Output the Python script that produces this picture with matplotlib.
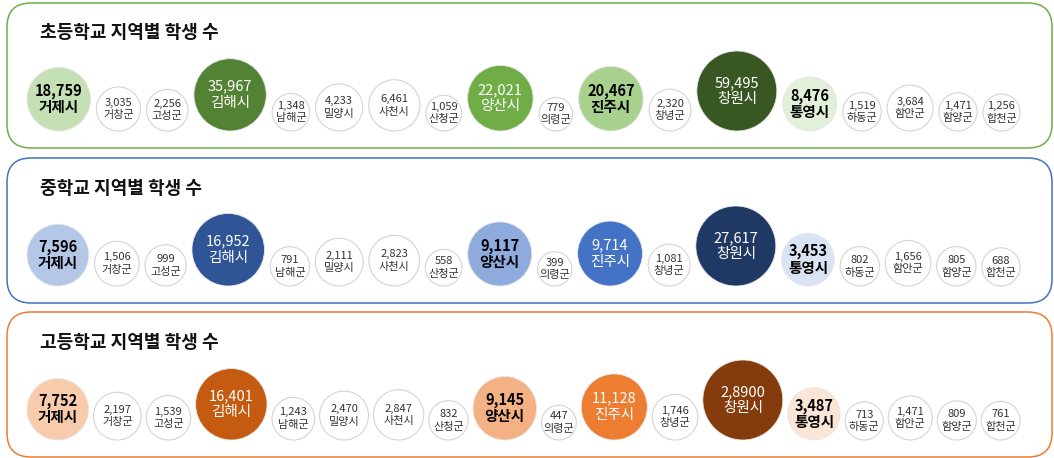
import matplotlib.pyplot as plt
import matplotlib.patches as patches
import numpy as np

plt.rcParams['font.family'] = ['Noto Sans CJK KR', 'DejaVu Sans']

# data
regions = ['거제시', '거창군', '고성군', '김해시', '남해군', '밀양시', '사천시', '산청군', '양산시',
           '의령군', '진주시', '창녕군', '창원시', '통영시', '하동군', '함안군', '함양군', '합천군']

elementary = ['18,759', '3,035', '2,256', '35,967', '1,348', '4,233', '6,461', '1,059', '22,021',
              '779', '20,467', '2,320', '59,495', '8,476', '1,519', '3,684', '1,471', '1,256']
middle = ['7,596', '1,506', '999', '16,952', '791', '2,111', '2,823', '558', '9,117',
          '399', '9,714', '1,081', '27,617', '3,453', '802', '1,656', '805', '688']
high = ['7,752', '2,197', '1,539', '16,401', '1,243', '2,470', '2,847', '832', '9,145',
        '447', '11,128', '1,746', '2,8900', '3,487', '713', '1,471', '809', '761']

titles = ['초등학교 지역별 학생 수', '중학교 지역별 학생 수', '고등학교 지역별 학생 수']

# styles: highlighted regions -> (fill, text colour)
green = {'거제시': ('#c5e0b4', 'black'), '김해시': ('#548235', 'white'), '양산시': ('#70ad47', 'white'),
         '진주시': ('#a9d18e', 'black'), '창원시': ('#385723', 'white'), '통영시': ('#e2f0d9', 'black')}
blue = {'거제시': ('#b4c7e7', 'black'), '김해시': ('#2f5597', 'white'), '양산시': ('#8faadc', 'black'),
        '진주시': ('#4472c4', 'white'), '창원시': ('#203864', 'white'), '통영시': ('#dae3f3', 'black')}
orange = {'거제시': ('#f8cbad', 'black'), '김해시': ('#c55a11', 'white'), '양산시': ('#f4b183', 'black'),
          '진주시': ('#ed7d31', 'white'), '창원시': ('#843c0c', 'white'), '통영시': ('#fbe5d6', 'black')}

panels = [(titles[0], elementary, green, '#70ad47', 3),
          (titles[1], middle, blue, '#4472c4', 158),
          (titles[2], high, orange, '#ed7d31', 312)]

W, H = 1054, 458
fig = plt.figure(figsize=(W / 100, H / 100), dpi=100)
ax = fig.add_axes([0, 0, 1, 1])
ax.set_xlim(0, W)
ax.set_ylim(H, 0)
ax.axis('off')

PX = 100 / 72  # px per pt

for title, labels, palette, border, top in panels:
    box = patches.FancyBboxPatch((7, top), 1045, 145, boxstyle='round,pad=0,rounding_size=24',
                                 linewidth=1.1, edgecolor=border, facecolor='white')
    ax.add_patch(box)
    ax.text(40, top + 30, title, fontsize=13, fontweight='bold', color='#111111',
            ha='left', va='center')

    vals = np.array([int(s.replace(',', '')) for s in labels], dtype=float)
    radii = 40 * (vals / vals.max()) ** 0.2

    left, right = 27, 1020
    gap = (right - left - 2 * radii.sum()) / (len(radii) - 1)
    baseline = top + 128

    x = left
    for name, lab, r in zip(regions, labels, radii):
        cx = x + r
        cy = baseline - r
        x = cx + r + gap

        if name in palette:
            fill, tc = palette[name]
            circ = patches.Circle((cx, cy), r, facecolor=fill, edgecolor='#e6e6e6', linewidth=0.6)
            fs = 10.5
            fw = 'bold' if tc == 'black' else 'normal'
        else:
            circ = patches.Circle((cx, cy), r, facecolor='white', edgecolor='#d4d4d4', linewidth=0.8)
            tc, fs, fw = '#333333', 8, 'normal'
        ax.add_patch(circ)

        off = 0.56 * fs * PX
        ax.text(cx, cy - off, lab, fontsize=fs, color=tc, fontweight=fw, ha='center', va='center')
        ax.text(cx, cy + off, name, fontsize=fs, color=tc, fontweight=fw, ha='center', va='center')

fig.savefig('out.png', dpi=100)
